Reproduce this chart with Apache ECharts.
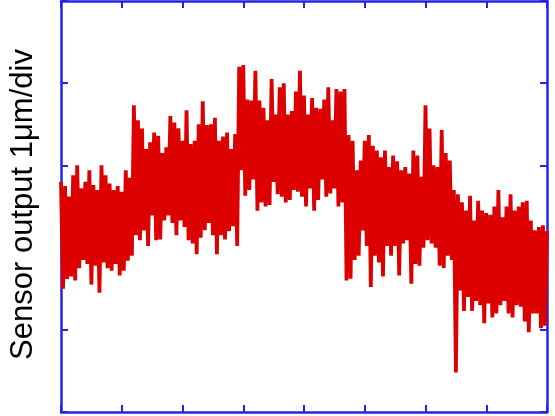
<!DOCTYPE html>
<html>
<head>
<meta charset="utf-8">
<style>
  html, body { margin: 0; padding: 0; background: #ffffff; }
  #chart { width: 555px; height: 416px; }
</style>
<script src="https://cdn.jsdelivr.net/npm/echarts@6/dist/echarts.min.js"></script>
</head>
<body>
<div id="chart"></div>
<script>
// Sensor output (um), one sample per ~2 px
var segment1 = [2.80,1.50,2.75,1.62,2.62,1.65,2.88,1.60,3.00,1.75,2.72,1.85,2.80,1.80,2.94,1.55,2.76,1.78,2.70,1.45,
  3.00,1.82,2.88,1.75,2.78,1.72,2.70,1.80,2.75,1.66,2.68,1.72,2.94,1.84,2.85];
var segment2 = [1.90,3.73,2.15,3.55,2.09,3.45,2.21,3.20,2.02,3.28,2.39,3.40,2.09,3.36,2.10,3.15,2.33,3.22,2.39,3.60,
  2.30,3.52,2.15,3.45,2.33,3.30,2.25,3.67,2.09,3.26,2.05,3.30,1.92,3.50,2.12,3.78,2.21,3.49,2.30,3.50,
  2.15,3.58,1.92,3.30,2.15,3.35,2.10,3.40,2.20,3.20,2.26,3.38,2.02];
var segment3 = [4.20,2.94,4.22,2.63,3.80,2.70,3.79,2.83,4.15,2.45,3.79,2.55,3.70,2.50,3.55,2.52,4.05,2.80,3.62,2.65,
  3.95,2.62,4.00,2.55,3.62,2.58,3.66,2.70,3.90,2.68,4.15,2.62,3.85,2.50,3.62,2.72,3.82,2.45,3.70,2.58,
  3.69,2.83,3.80,2.62,3.95,2.66,3.55,2.72,3.93,2.50,3.90,2.55,3.93,1.60];
var segment4 = [3.37,1.62,3.30,1.85,2.94,1.90,3.06,2.21,3.30,2.02,3.37,1.52,3.24,1.90,3.18,1.82,3.10,1.65,3.18,2.02,
  2.98,1.90,3.12,2.02,3.05,1.66,2.94,2.05,2.98,2.09,2.90,1.56,3.18,1.80,3.12,1.78,2.86,2.00,3.73,2.09,
  3.45,2.05,3.00,2.00,2.98,1.78,3.43,1.75,3.15,1.90,3.06,1.85,2.70];
var segment5 = [0.48,2.65,1.48,2.55,1.23,2.45,1.40,2.63,1.23,2.33,1.35,2.57,1.30,2.45,1.08,2.42,1.32,2.40,1.15,2.50,
  1.20,2.70,1.30,2.37,1.35,2.50,1.20,2.65,1.15,2.45,1.30,2.50,1.28,2.55,1.10,2.57,0.97,2.33,1.20,2.21,
  1.20,2.25,1.02,2.27,1.05,2.20];
var sensorOutput = segment1.concat(segment2, segment3, segment4, segment5);

var yAxisName = 'Sensor output 1\u03bcm/div';
var xDivisions = 8;     // time divisions
var yDivisions = 5;     // 1 um per division

var blue = '#2424e8';
var red = '#dd0000';

var samplesPerDiv = (sensorOutput.length - 1) / xDivisions;
var seriesData = sensorOutput.map(function (v, i) { return [i, v]; });

function xAx(pos) {
  return {
    type: 'value', position: pos, min: 0, max: sensorOutput.length - 1, interval: samplesPerDiv,
    axisLine: { show: true, onZero: false, lineStyle: { color: blue, width: 2.5 } },
    axisTick: { show: true, inside: true, length: 7, lineStyle: { color: blue, width: 2 } },
    axisLabel: { show: false }, splitLine: { show: false }
  };
}
function yAx(pos, name) {
  var a = {
    type: 'value', position: pos, min: 0, max: yDivisions, interval: 1,
    axisLine: { show: true, onZero: false, lineStyle: { color: blue, width: 2.5 } },
    axisTick: { show: true, inside: true, length: 7, lineStyle: { color: blue, width: 2 } },
    axisLabel: { show: false }, splitLine: { show: false }
  };
  if (name) {
    a.name = name;
    a.nameLocation = 'middle';
    a.nameGap = 22;
    a.nameTextStyle = { fontFamily: 'Liberation Sans, Arial, sans-serif', fontSize: 31, color: '#000000',
      padding: [0, 0, 0, 4] };
  }
  return a;
}

var chart = echarts.init(document.getElementById('chart'), null, { renderer: 'canvas' });
chart.setOption({
  animation: false,
  backgroundColor: '#ffffff',
  grid: { left: 60, top: 1, right: 8, bottom: 4, containLabel: false },
  xAxis: [xAx('bottom'), xAx('top')],
  yAxis: [yAx('left', yAxisName), yAx('right')],
  series: [{
    type: 'line',
    data: seriesData,
    xAxisIndex: 0, yAxisIndex: 0,
    showSymbol: false, symbol: 'none',
    lineStyle: { color: red, width: 3.8, join: 'bevel', cap: 'butt' },
    z: 1
  }]
});
</script>
</body>
</html>
